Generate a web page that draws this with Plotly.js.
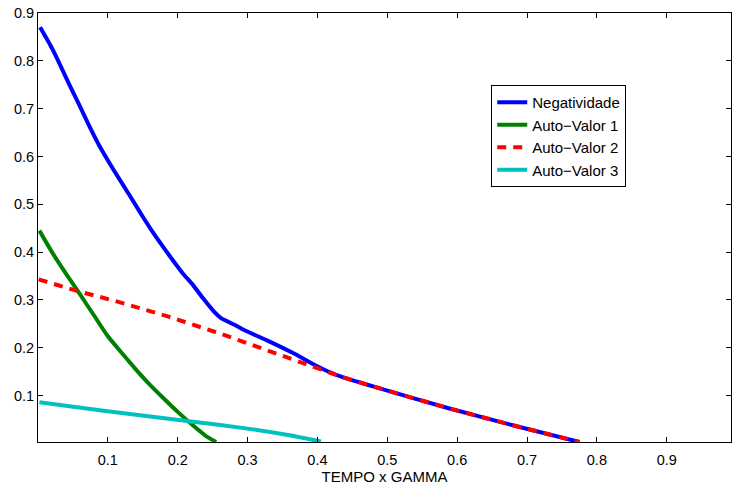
<!DOCTYPE html>
<html>
<head>
<meta charset="utf-8">
<script src="https://cdn.plot.ly/plotly-3.0.1.min.js"></script>
<style>html,body{margin:0;padding:0;background:#fff;}#chart{width:732px;height:487px;}</style>
</head>
<body>
<div id="chart"></div>
<script>
const seriesNames = ["Negatividade", "Auto\u2212Valor 1", "Auto\u2212Valor 2", "Auto\u2212Valor 3"];

const negX = [0.003,0.0175,0.025,0.044,0.058,0.074,0.088,0.107,0.131,0.150,0.167,0.184,0.191,0.207,0.222,0.236,0.253,0.262,0.284,0.298,0.327,0.365,0.399,0.413,0.437,0.494,0.589,0.685,0.775];
const negY = [0.870,0.833,0.812,0.753,0.711,0.662,0.622,0.575,0.519,0.474,0.436,0.401,0.387,0.356,0.331,0.304,0.274,0.262,0.246,0.235,0.216,0.189,0.162,0.152,0.138,0.113,0.073,0.036,0.003];

const av1X = [0.002,0.020,0.040,0.060,0.080,0.100,0.120,0.140,0.160,0.180,0.200,0.220,0.240,0.255];
const av1Y = [0.445,0.400,0.355,0.312,0.268,0.224,0.189,0.155,0.123,0.094,0.066,0.040,0.016,0.003];

const av2X = [0.001,0.058,0.110,0.160,0.187,0.262,0.312,0.360,0.413,0.437,0.494,0.589,0.685,0.775];
const av2Y = [0.343,0.318,0.298,0.277,0.265,0.229,0.203,0.178,0.150,0.138,0.113,0.073,0.036,0.003];

const av3X = [0.002,0.091,0.219,0.300,0.360,0.405];
const av3Y = [0.086,0.069,0.046,0.031,0.017,0.004];

const xTicks = [0.1,0.2,0.3,0.4,0.5,0.6,0.7,0.8,0.9];
const yTicks = [0.1,0.2,0.3,0.4,0.5,0.6,0.7,0.8,0.9];

const FONT = "Liberation Sans, Arial, Helvetica, sans-serif";

const traces = [
  {x: negX, y: negY, name: seriesNames[0], mode: "lines", line: {color: "#0000ff", width: 4, shape: "spline", smoothing: 0.5}},
  {x: av1X, y: av1Y, name: seriesNames[1], mode: "lines", line: {color: "#008000", width: 4, shape: "spline", smoothing: 0.6}},
  {x: av2X, y: av2Y, name: seriesNames[2], mode: "lines", line: {color: "#ff0000", width: 4, dash: "9px,7px"}},
  {x: av3X, y: av3Y, name: seriesNames[3], mode: "lines", line: {color: "#00c0c0", width: 4, shape: "spline", smoothing: 0.6}}
];

const axisCommon = {
  showgrid: false, zeroline: false, showline: true, linecolor: "#000", linewidth: 1,
  mirror: "ticks", ticks: "inside", ticklen: 5, tickcolor: "#000", tickwidth: 1,
  tickfont: {family: FONT, size: 14.5, color: "#000"}
};

const layout = {
  width: 732, height: 487,
  margin: {l: 38, r: 1, t: 13, b: 45},
  paper_bgcolor: "#fff", plot_bgcolor: "#fff",
  font: {family: FONT, size: 15, color: "#000"},
  xaxis: Object.assign({}, axisCommon, {
    range: [0, 0.992], tickvals: xTicks, ticktext: xTicks.map(String),
    ticklabelstandoff: 5,
    title: {text: "TEMPO x GAMMA", font: {family: FONT, size: 15, color: "#000"}, standoff: 2}
  }),
  yaxis: Object.assign({}, axisCommon, {
    range: [0.003, 0.9], tickvals: yTicks, ticktext: yTicks.map(String)
  }),
  legend: {
    x: 0.654, y: 0.832, xanchor: "left", yanchor: "top",
    bgcolor: "#fff", bordercolor: "#000", borderwidth: 1,
    font: {family: FONT, size: 15, color: "#000"},
    tracegroupgap: 0, itemwidth: 30
  },
  showlegend: true
};

Plotly.newPlot("chart", traces, layout, {displayModeBar: false, staticPlot: true});
</script>
</body>
</html>
